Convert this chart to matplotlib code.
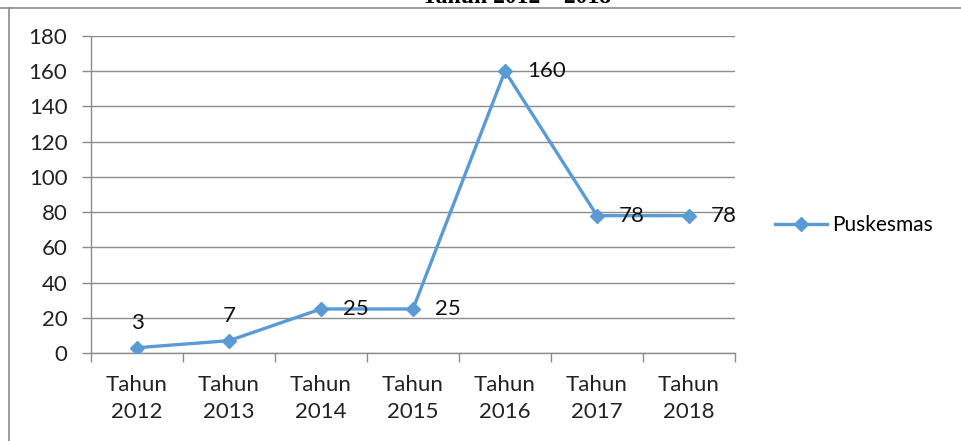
import numpy as np
import matplotlib
matplotlib.use("Agg")
import matplotlib.pyplot as plt
from matplotlib.lines import Line2D
from matplotlib.ticker import FixedLocator

plt.rcParams["font.family"] = ["Lato", "DejaVu Sans"]

years = ["Tahun\n2012", "Tahun\n2013", "Tahun\n2014", "Tahun\n2015",
         "Tahun\n2016", "Tahun\n2017", "Tahun\n2018"]
puskesmas = [3, 7, 25, 25, 160, 78, 78]
# label placement as in the source: above for the first two, right for the rest
label_pos = ["above", "above", "right", "right", "right", "right", "right"]

BLUE = "#5B9BD5"
GRID = "#8c8c8c"
FS = 16

fig = plt.figure(figsize=(9.61, 4.41), dpi=100)
ax = fig.add_axes([91 / 961, 1 - 353 / 441, (735 - 91) / 961, (353 - 36) / 441])

x = np.arange(len(years))
ax.plot(x, puskesmas, color=BLUE, lw=2.4, marker="D", ms=7.5,
        label="Puskesmas", zorder=3)

for xi, v, pos in zip(x, puskesmas, label_pos):
    if pos == "above":
        ax.annotate(str(v), (xi, v), xytext=(0, 18), textcoords="offset points",
                    ha="center", va="center", fontsize=FS, color="#111111")
    else:
        ax.annotate(str(v), (xi, v), xytext=(16, 0), textcoords="offset points",
                    ha="left", va="center", fontsize=FS, color="#111111")

ax.set_xlim(-0.5, len(years) - 0.5)
ax.set_ylim(0, 180)
ax.set_yticks(np.arange(0, 181, 20))
ax.set_xticks(x)
ax.set_xticklabels(years, linespacing=1.45)
ax.xaxis.set_minor_locator(FixedLocator(np.arange(-0.5, len(years), 1)))
ax.tick_params(axis="x", which="major", length=0, pad=16, labelsize=FS,
               colors="#222222")
ax.tick_params(axis="x", which="minor", length=6.5, width=1, color=GRID)
ax.tick_params(axis="y", length=6.5, width=1, color=GRID, pad=10.5,
               labelsize=FS, labelcolor="#222222")

ax.grid(True, axis="y", color=GRID, lw=1)
ax.set_axisbelow(True)
for s in ["top", "right"]:
    ax.spines[s].set_visible(False)
for s in ["left", "bottom"]:
    ax.spines[s].set_color(GRID)
    ax.spines[s].set_linewidth(1)

fig.legend(loc="center left", bbox_to_anchor=(775 / 961, 1 - 225 / 441),
           frameon=False, fontsize=15, handlelength=2.5, handletextpad=0.25,
           borderpad=0, borderaxespad=0)

# outer frame of the cropped chart object (top and left edges show)
fig.add_artist(Line2D([0, 1], [1 - 7.5 / 441] * 2, transform=fig.transFigure,
                      color="#8a8a8a", lw=1.2))
fig.add_artist(Line2D([8.5 / 961] * 2, [0, 1 - 7.5 / 441], transform=fig.transFigure,
                      color="#8a8a8a", lw=1.2))

# title cut off by the crop
fig.text(517 / 961, 1 - 3 / 441, "Tahun 2012 \u2013 2018", ha="center", va="baseline",
         fontsize=17, fontweight="bold", family="Liberation Serif")

fig.savefig("out.png", dpi=100)
